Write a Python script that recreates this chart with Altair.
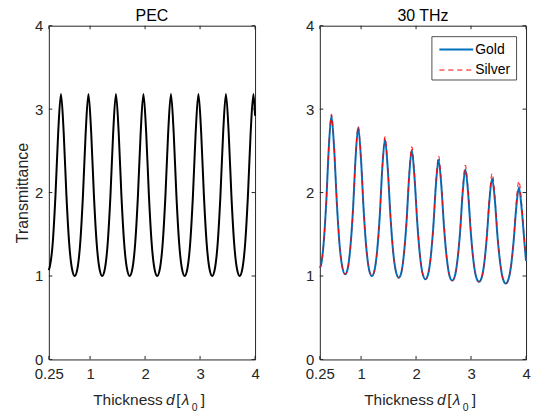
import altair as alt
import pandas as pd

# ---------------- data ----------------
X_TICKS = [0.25, 1, 2, 3, 4]
Y_TICKS = [0, 1, 2, 3, 4]
SERIES = ["Gold", "Silver"]
TITLES = ["PEC", "30 THz"]

PEC_X = [0.25, 0.27, 0.32, 0.37, 0.42, 0.47, 0.52, 0.57, 0.62, 0.67, 0.72,
         0.77, 0.82, 0.87, 0.92, 0.97, 1.02, 1.07, 1.12, 1.17, 1.22,
         1.27, 1.32, 1.37, 1.42, 1.47, 1.52, 1.57, 1.62, 1.67, 1.72,
         1.77, 1.82, 1.87, 1.92, 1.97, 2.02, 2.07, 2.12, 2.17, 2.22,
         2.27, 2.32, 2.37, 2.42, 2.47, 2.52, 2.57, 2.62, 2.67, 2.72,
         2.77, 2.82, 2.87, 2.92, 2.97, 3.02, 3.07, 3.12, 3.17, 3.22,
         3.27, 3.32, 3.37, 3.42, 3.47, 3.52, 3.57, 3.62, 3.67, 3.72,
         3.77, 3.82, 3.87, 3.92, 3.97, 4.00]
PEC_Y = [1.07, 1.12, 1.39, 1.96, 2.72, 3.18, 2.72, 1.96, 1.39, 1.09, 1.00,
         1.09, 1.39, 1.96, 2.72, 3.18, 2.72, 1.96, 1.39, 1.09, 1.00,
         1.09, 1.39, 1.96, 2.72, 3.18, 2.72, 1.96, 1.39, 1.09, 1.00,
         1.09, 1.39, 1.96, 2.72, 3.18, 2.72, 1.96, 1.39, 1.09, 1.00,
         1.09, 1.39, 1.96, 2.72, 3.18, 2.72, 1.96, 1.39, 1.09, 1.00,
         1.09, 1.39, 1.96, 2.72, 3.18, 2.72, 1.96, 1.39, 1.09, 1.00,
         1.09, 1.39, 1.96, 2.72, 3.18, 2.72, 1.96, 1.39, 1.09, 1.00,
         1.09, 1.39, 1.96, 2.72, 3.18, 2.92]

METAL_X = [0.250, 0.271, 0.318, 0.366, 0.413, 0.461, 0.511, 0.561, 0.611, 0.661,
           0.710, 0.758, 0.805, 0.853, 0.900, 0.948, 0.998, 1.048, 1.098, 1.148,
           1.197, 1.245, 1.292, 1.340, 1.387, 1.435, 1.485, 1.535, 1.585, 1.635,
           1.684, 1.732, 1.779, 1.827, 1.874, 1.922, 1.972, 2.022, 2.072, 2.122,
           2.171, 2.219, 2.266, 2.314, 2.361, 2.409, 2.459, 2.509, 2.559, 2.609,
           2.658, 2.706, 2.753, 2.801, 2.848, 2.896, 2.946, 2.996, 3.046, 3.096,
           3.145, 3.193, 3.240, 3.288, 3.335, 3.383, 3.433, 3.483, 3.533, 3.583,
           3.632, 3.680, 3.727, 3.775, 3.822, 3.870, 3.920, 3.970, 4.000]
GOLD_Y = [1.10, 1.13, 1.38, 1.87, 2.53, 2.92, 2.52, 1.86, 1.36, 1.10,
          1.02, 1.09, 1.34, 1.79, 2.41, 2.78, 2.41, 1.78, 1.32, 1.07,
          1.00, 1.07, 1.30, 1.72, 2.30, 2.64, 2.29, 1.71, 1.28, 1.05,
          0.98, 1.04, 1.26, 1.65, 2.19, 2.51, 2.18, 1.64, 1.24, 1.02,
          0.96, 1.02, 1.22, 1.59, 2.09, 2.39, 2.09, 1.58, 1.21, 1.00,
          0.945, 1.00, 1.19, 1.53, 2.00, 2.28, 2.00, 1.52, 1.17, 0.98,
          0.93, 0.98, 1.15, 1.48, 1.91, 2.17, 1.91, 1.46, 1.14, 0.96,
          0.91, 0.96, 1.12, 1.42, 1.82, 2.06, 1.81, 1.41, 1.18]
SILVER_Y = [1.10, 1.13, 1.38, 1.87, 2.55, 2.94, 2.54, 1.86, 1.36, 1.10,
            1.02, 1.09, 1.34, 1.79, 2.43, 2.80, 2.43, 1.78, 1.32, 1.07,
            1.00, 1.07, 1.30, 1.73, 2.32, 2.67, 2.31, 1.72, 1.28, 1.05,
            0.98, 1.04, 1.26, 1.66, 2.22, 2.55, 2.21, 1.65, 1.24, 1.02,
            0.96, 1.02, 1.22, 1.60, 2.13, 2.44, 2.13, 1.60, 1.21, 1.00,
            0.945, 1.00, 1.19, 1.55, 2.04, 2.33, 2.04, 1.54, 1.17, 0.98,
            0.93, 0.98, 1.15, 1.50, 1.96, 2.23, 1.96, 1.48, 1.14, 0.96,
            0.91, 0.96, 1.12, 1.44, 1.88, 2.14, 1.87, 1.43, 1.18]

# ---------------- styling ----------------
FONT = "Liberation Sans"
TXT = "#262626"
W, H = 207, 335
TL = 3.5  # inward tick length
GOLD_C = "#0072BD"
SILVER_C = "#FF0000"

xs = alt.Scale(domain=[0.25, 4], nice=False, zero=False)
ys = alt.Scale(domain=[0, 4], nice=False, zero=True)

pec_df = pd.DataFrame({"d": PEC_X, "T": PEC_Y})
gold_df = pd.DataFrame({"d": METAL_X, "T": GOLD_Y})
silver_df = pd.DataFrame({"d": METAL_X, "T": SILVER_Y})
xt_df = pd.DataFrame({"d": X_TICKS})
yt_df = pd.DataFrame({"T": Y_TICKS})
one = pd.DataFrame({"k": [0]})

XAX = alt.Axis(values=X_TICKS, labelExpr="datum.value == 0.25 ? '0.25' : '' + datum.value",
               ticks=False, domain=False, grid=False, labelPadding=7, title=None,
               labelFontSize=15, labelColor=TXT, labelFont=FONT, labelFlush=False)


def y_axis(title):
    kw = dict(values=Y_TICKS, labelExpr="'' + datum.value", ticks=False, domain=False,
              grid=False, labelPadding=6, labelFontSize=15, labelColor=TXT,
              labelFont=FONT, labelFlush=False)
    if title:
        kw.update(title=title, titleFontSize=16, titleFont=FONT, titleFontWeight="normal",
                  titleColor=TXT, titlePadding=4)
    else:
        kw.update(title=None)
    return alt.Axis(**kw)


def text_piece(s, x, y, fs, style="normal", align="left", color=TXT):
    return alt.Chart(one).mark_text(
        text=s, align=align, baseline="alphabetic", font=FONT, fontSize=fs,
        fontStyle=style, color=color).encode(x=alt.value(x), y=alt.value(y))


def panel_layers(yax, lines, ttl):
    X = alt.X("d:Q", scale=xs, axis=XAX)
    Y = alt.Y("T:Q", scale=ys, axis=yax)
    layers = list(lines(X, Y))
    layers += [
        alt.Chart(xt_df).mark_rule(color=TXT, strokeWidth=1).encode(
            x=X, y=alt.value(H), y2=alt.value(H - TL)),
        alt.Chart(xt_df).mark_rule(color=TXT, strokeWidth=1).encode(
            x=X, y=alt.value(0), y2=alt.value(TL)),
        alt.Chart(yt_df).mark_rule(color=TXT, strokeWidth=1).encode(
            y=Y, x=alt.value(0), x2=alt.value(TL)),
        alt.Chart(yt_df).mark_rule(color=TXT, strokeWidth=1).encode(
            y=Y, x=alt.value(W), x2=alt.value(W - TL)),
    ]
    base_y = H + 45.5
    layers += [
        text_piece("Thickness", 44.5, base_y, 15.5),
        text_piece("d", 117.5, base_y, 15.5, "italic"),
        text_piece("[", 128, base_y, 15.5),
        text_piece("λ", 133.5, base_y, 15.5, "italic"),
        text_piece("0", 143.5, base_y + 6.5, 10.5),
        text_piece("]", 152.5, base_y, 15.5),
        # panel title
        text_piece(ttl, W / 2, -5, 16, align="center", color="#000000"),
    ]
    return layers


def pec_lines(X, Y):
    return [alt.Chart(pec_df).mark_line(color="#000000", strokeWidth=2,
                                        interpolate="monotone").encode(x=X, y=Y)]


def metal_lines(X, Y):
    return [
        alt.Chart(gold_df).mark_line(color=GOLD_C, strokeWidth=2,
                                     interpolate="monotone").encode(x=X, y=Y),
        alt.Chart(silver_df).mark_line(color=SILVER_C, strokeWidth=1, strokeDash=[5, 4],
                                       interpolate="monotone").encode(x=X, y=Y),
    ]


left = alt.layer(*panel_layers(y_axis("Transmittance"), pec_lines, TITLES[0])).properties(
    width=W, height=H)

# legend box (inside the top-right corner of the right panel)
LX0, LX1, LY0, LY1 = 112.5, 197.5, 11, 54.5
legend = [
    alt.Chart(one).mark_rect(fill="white", stroke=TXT, strokeWidth=0.8).encode(
        x=alt.value(LX0), x2=alt.value(LX1), y=alt.value(LY0), y2=alt.value(LY1)),
    alt.Chart(one).mark_rule(color=GOLD_C, strokeWidth=2).encode(
        x=alt.value(120), x2=alt.value(154), y=alt.value(24)),
    alt.Chart(one).mark_rule(color=SILVER_C, strokeWidth=1, strokeDash=[5, 4]).encode(
        x=alt.value(120), x2=alt.value(154), y=alt.value(44.5)),
    alt.Chart(one).mark_text(text=SERIES[0], align="left", baseline="middle", font=FONT,
                             fontSize=14, color="#000000").encode(
        x=alt.value(156), y=alt.value(24)),
    alt.Chart(one).mark_text(text=SERIES[1], align="left", baseline="middle", font=FONT,
                             fontSize=14, color="#000000").encode(
        x=alt.value(156), y=alt.value(44)),
]

right = alt.layer(*panel_layers(y_axis(None), metal_lines, TITLES[1]), *legend).properties(
    width=W, height=H)

chart = alt.hconcat(left, right, spacing=65, bounds="flush").properties(
    padding={"left": 6, "top": -2, "right": 5, "bottom": 0},
    background="white",
).configure_view(stroke=TXT, strokeWidth=1)

chart.save("out.html", embed_options={"renderer": "svg", "actions": False})
